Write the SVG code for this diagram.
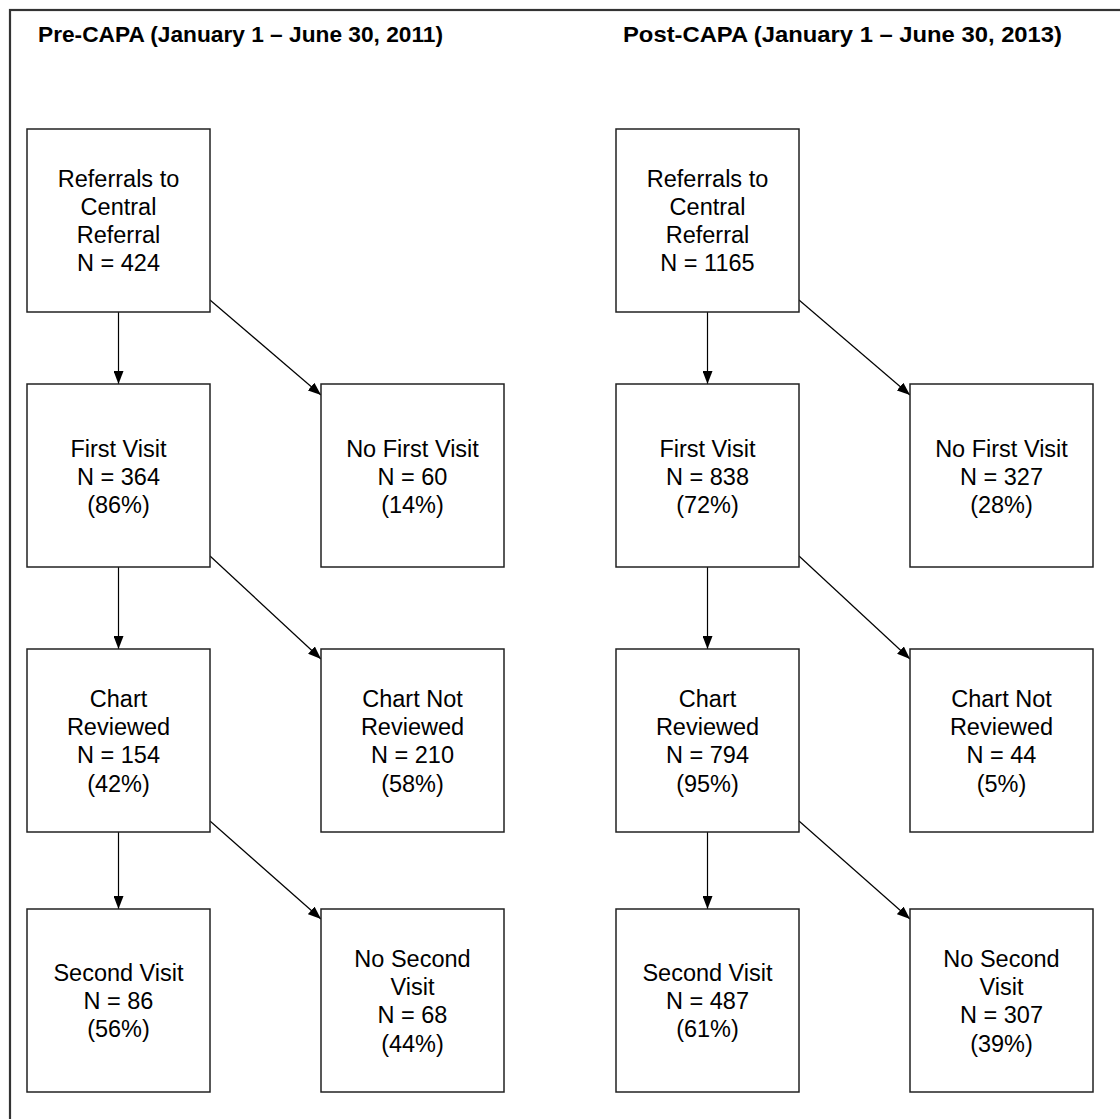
<svg xmlns="http://www.w3.org/2000/svg" width="1120" height="1119" viewBox="0 0 1120 1119">
<defs>
<marker id="ah" viewBox="0 0 13 10" refX="13" refY="5" markerWidth="13" markerHeight="10" markerUnits="userSpaceOnUse" orient="auto">
<path d="M0,0 L13,5 L0,10 z" fill="#000"/>
</marker>
<style>
.box{fill:#fff;stroke:#222;stroke-width:1.5}
.t{font-family:"Liberation Sans",Arial,Helvetica,sans-serif;font-size:23.5px;fill:#000;text-anchor:middle}
.title{font-family:"Liberation Sans",Arial,Helvetica,sans-serif;font-size:21.5px;font-weight:bold;fill:#000}
.c{stroke:#000;stroke-width:1.2;fill:none;marker-end:url(#ah)}
</style>
</defs>
<rect x="0" y="0" width="1120" height="1119" fill="#fff"/>
<rect x="10" y="10" width="1200" height="1200" fill="none" stroke="#333" stroke-width="2.2"/>
<text class="title" x="38" y="42" textLength="405" lengthAdjust="spacingAndGlyphs">Pre-CAPA (January 1 – June 30, 2011)</text>
<text class="title" x="623" y="42" textLength="439" lengthAdjust="spacingAndGlyphs">Post-CAPA (January 1 – June 30, 2013)</text>

<g id="connectors">
<line class="c" x1="118.5" y1="312" x2="118.5" y2="384"/>
<line class="c" x1="118.5" y1="567" x2="118.5" y2="649"/>
<line class="c" x1="118.5" y1="832" x2="118.5" y2="909"/>
<line class="c" x1="210" y1="300" x2="321" y2="395"/>
<line class="c" x1="210" y1="556" x2="321" y2="659"/>
<line class="c" x1="210" y1="821" x2="321" y2="919"/>
<line class="c" x1="707.5" y1="312" x2="707.5" y2="384"/>
<line class="c" x1="707.5" y1="567" x2="707.5" y2="649"/>
<line class="c" x1="707.5" y1="832" x2="707.5" y2="909"/>
<line class="c" x1="799" y1="300" x2="910" y2="395"/>
<line class="c" x1="799" y1="556" x2="910" y2="659"/>
<line class="c" x1="799" y1="821" x2="910" y2="919"/>
</g>

<g id="pre-referrals">
<rect class="box" x="27" y="129" width="183" height="183"/>
<text class="t"><tspan x="118.5" y="186.5">Referrals to</tspan><tspan x="118.5" y="214.8">Central</tspan><tspan x="118.5" y="243.1">Referral</tspan><tspan x="118.5" y="271.4">N = 424</tspan></text>
</g>
<g id="pre-first-visit">
<rect class="box" x="27" y="384" width="183" height="183"/>
<text class="t"><tspan x="118.5" y="456.5">First Visit</tspan><tspan x="118.5" y="484.8">N = 364</tspan><tspan x="118.5" y="513.1">(86%)</tspan></text>
</g>
<g id="pre-no-first-visit">
<rect class="box" x="321" y="384" width="183" height="183"/>
<text class="t"><tspan x="412.5" y="456.5">No First Visit</tspan><tspan x="412.5" y="484.8">N = 60</tspan><tspan x="412.5" y="513.1">(14%)</tspan></text>
</g>
<g id="pre-chart-reviewed">
<rect class="box" x="27" y="649" width="183" height="183"/>
<text class="t"><tspan x="118.5" y="706.6">Chart</tspan><tspan x="118.5" y="734.9">Reviewed</tspan><tspan x="118.5" y="763.2">N = 154</tspan><tspan x="118.5" y="791.5">(42%)</tspan></text>
</g>
<g id="pre-chart-not-reviewed">
<rect class="box" x="321" y="649" width="183" height="183"/>
<text class="t"><tspan x="412.5" y="706.6">Chart Not</tspan><tspan x="412.5" y="734.9">Reviewed</tspan><tspan x="412.5" y="763.2">N = 210</tspan><tspan x="412.5" y="791.5">(58%)</tspan></text>
</g>
<g id="pre-second-visit">
<rect class="box" x="27" y="909" width="183" height="183"/>
<text class="t"><tspan x="118.5" y="980.5">Second Visit</tspan><tspan x="118.5" y="1008.8">N = 86</tspan><tspan x="118.5" y="1037.1">(56%)</tspan></text>
</g>
<g id="pre-no-second-visit">
<rect class="box" x="321" y="909" width="183" height="183"/>
<text class="t"><tspan x="412.5" y="966.6">No Second</tspan><tspan x="412.5" y="994.9">Visit</tspan><tspan x="412.5" y="1023.2">N = 68</tspan><tspan x="412.5" y="1051.5">(44%)</tspan></text>
</g>

<g id="post-referrals">
<rect class="box" x="616" y="129" width="183" height="183"/>
<text class="t"><tspan x="707.5" y="186.5">Referrals to</tspan><tspan x="707.5" y="214.8">Central</tspan><tspan x="707.5" y="243.1">Referral</tspan><tspan x="707.5" y="271.4">N = 1165</tspan></text>
</g>
<g id="post-first-visit">
<rect class="box" x="616" y="384" width="183" height="183"/>
<text class="t"><tspan x="707.5" y="456.5">First Visit</tspan><tspan x="707.5" y="484.8">N = 838</tspan><tspan x="707.5" y="513.1">(72%)</tspan></text>
</g>
<g id="post-no-first-visit">
<rect class="box" x="910" y="384" width="183" height="183"/>
<text class="t"><tspan x="1001.5" y="456.5">No First Visit</tspan><tspan x="1001.5" y="484.8">N = 327</tspan><tspan x="1001.5" y="513.1">(28%)</tspan></text>
</g>
<g id="post-chart-reviewed">
<rect class="box" x="616" y="649" width="183" height="183"/>
<text class="t"><tspan x="707.5" y="706.6">Chart</tspan><tspan x="707.5" y="734.9">Reviewed</tspan><tspan x="707.5" y="763.2">N = 794</tspan><tspan x="707.5" y="791.5">(95%)</tspan></text>
</g>
<g id="post-chart-not-reviewed">
<rect class="box" x="910" y="649" width="183" height="183"/>
<text class="t"><tspan x="1001.5" y="706.6">Chart Not</tspan><tspan x="1001.5" y="734.9">Reviewed</tspan><tspan x="1001.5" y="763.2">N = 44</tspan><tspan x="1001.5" y="791.5">(5%)</tspan></text>
</g>
<g id="post-second-visit">
<rect class="box" x="616" y="909" width="183" height="183"/>
<text class="t"><tspan x="707.5" y="980.5">Second Visit</tspan><tspan x="707.5" y="1008.8">N = 487</tspan><tspan x="707.5" y="1037.1">(61%)</tspan></text>
</g>
<g id="post-no-second-visit">
<rect class="box" x="910" y="909" width="183" height="183"/>
<text class="t"><tspan x="1001.5" y="966.6">No Second</tspan><tspan x="1001.5" y="994.9">Visit</tspan><tspan x="1001.5" y="1023.2">N = 307</tspan><tspan x="1001.5" y="1051.5">(39%)</tspan></text>
</g>
</svg>
